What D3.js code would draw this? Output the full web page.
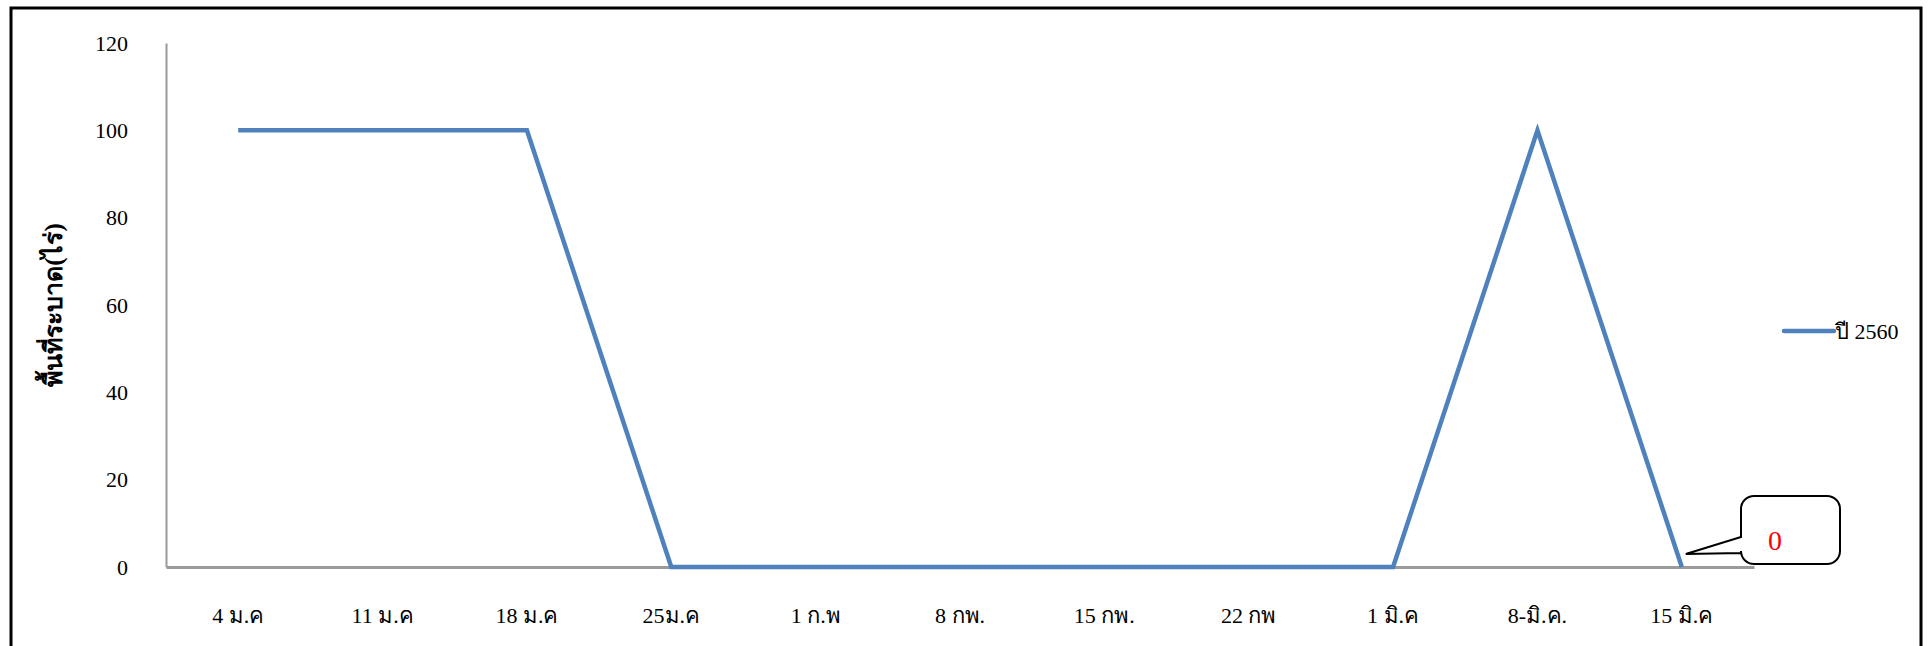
<!DOCTYPE html>
<html>
<head>
<meta charset="utf-8">
<script src="https://cdn.jsdelivr.net/npm/d3@7"></script>
<style>
  html, body { margin: 0; padding: 0; background: #fff; }
  svg { display: block; }
  .tick text { font-family: "Liberation Serif", "DejaVu Serif", serif; }
</style>
</head>
<body>
<div id="chart"></div>
<script>
// พื้นที่ระบาด ปี 2560
const categories = ["4 ม.ค", "11 ม.ค", "18 ม.ค", "25ม.ค", "1 ก.พ", "8 กพ.", "15 กพ.", "22 กพ", "1 มิ.ค", "8-มิ.ค.", "15 มิ.ค"];
const values = [100, 100, 100, 0, 0, 0, 0, 0, 0, 100, 0];
const yTicks = [0, 20, 40, 60, 80, 100, 120];
const seriesName = "ปี 2560";
const yTitle = "พื้นที่ระบาด(ไร่)";
const calloutText = "0";

const width = 1932, height = 646;
const margin = { left: 166, right: 178, top: 43, bottom: 79 };

const svg = d3.select("#chart").append("svg")
  .attr("width", width).attr("height", height);

// outer frame
svg.append("rect")
  .attr("x", 11).attr("y", 8).attr("width", 1910).attr("height", 650)
  .attr("fill", "none").attr("stroke", "#000").attr("stroke-width", 3);

const x = d3.scaleBand().domain(categories)
  .range([margin.left, width - margin.right]);
const y = d3.scaleLinear().domain([0, 120])
  .range([height - margin.bottom, margin.top]);

// y axis
const yAxis = svg.append("g")
  .attr("transform", `translate(${margin.left},0)`)
  .call(d3.axisLeft(y).tickValues(yTicks).tickSize(0).tickPadding(38));
yAxis.select(".domain").attr("stroke", "#9a9a9a").attr("stroke-width", 2);
yAxis.selectAll("text").attr("font-size", 22).attr("fill", "#000");

// x axis
const xAxis = svg.append("g")
  .attr("transform", `translate(0,${y(0)})`)
  .call(d3.axisBottom(x).tickSize(0).tickPadding(40));
xAxis.select(".domain").attr("stroke", "#9a9a9a").attr("stroke-width", 3);
xAxis.selectAll("text").attr("font-size", 22).attr("fill", "#000");

// y title
svg.append("text")
  .attr("transform", `translate(62,${(y(0) + y(120)) / 2}) rotate(-90)`)
  .attr("text-anchor", "middle")
  .attr("font-family", "Liberation Serif, DejaVu Serif, serif")
  .attr("font-weight", "bold")
  .attr("font-size", 25)
  .text(yTitle);

// line
const line = d3.line()
  .x((d, i) => x(categories[i]) + x.bandwidth() / 2)
  .y(d => y(d));
svg.append("path")
  .datum(values)
  .attr("fill", "none")
  .attr("stroke", "#4f81bd")
  .attr("stroke-width", 4.5)
  .attr("stroke-linejoin", "miter")
  .attr("d", line);

// legend
const lg = svg.append("g").attr("transform", "translate(1784,331)");
lg.append("line").attr("x1", 0).attr("x2", 50)
  .attr("stroke", "#4f81bd").attr("stroke-width", 4.5).attr("stroke-linecap", "round");
lg.append("text").attr("x", 51).attr("y", 8)
  .attr("font-family", "Liberation Serif, DejaVu Serif, serif")
  .attr("font-size", 22)
  .text(seriesName);

// callout pointing at last point
const last = categories.length - 1;
const px = x(categories[last]) + x.bandwidth() / 2 + 4;
const py = y(values[last]) - 13;
const bx = 1741, by = 496, bw = 99, bh = 68, r = 13;
const tailTop = by + 41, tailBot = by + 57;
const callout = d3.path();
callout.moveTo(bx + r, by);
callout.lineTo(bx + bw - r, by);
callout.arcTo(bx + bw, by, bx + bw, by + r, r);
callout.lineTo(bx + bw, by + bh - r);
callout.arcTo(bx + bw, by + bh, bx + bw - r, by + bh, r);
callout.lineTo(bx + r, by + bh);
callout.arcTo(bx, by + bh, bx, by + bh - r, r);
callout.lineTo(bx, tailBot);
callout.lineTo(px, py);
callout.lineTo(bx, tailTop);
callout.lineTo(bx, by + r);
callout.arcTo(bx, by, bx + r, by, r);
callout.closePath();
svg.append("path").attr("d", callout.toString())
  .attr("fill", "#fff").attr("stroke", "#000").attr("stroke-width", 2);
svg.append("text")
  .attr("x", 1768).attr("y", 550)
  .attr("font-family", "Liberation Serif, DejaVu Serif, serif")
  .attr("font-size", 28).attr("fill", "#ff0000")
  .text(calloutText);
</script>
</body>
</html>
